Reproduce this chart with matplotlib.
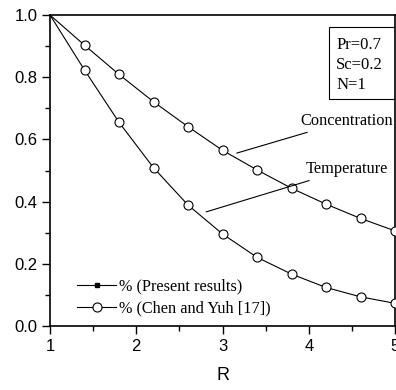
import matplotlib.pyplot as plt
import numpy as np
from matplotlib.patches import Rectangle
from matplotlib.ticker import MultipleLocator

R = [1.0, 1.4, 1.8, 2.2, 2.6, 3.0, 3.4, 3.8, 4.2, 4.6, 5.0]
conc = [1.0, 0.903, 0.809, 0.721, 0.641, 0.565, 0.502, 0.443, 0.392, 0.346, 0.306]
temp = [1.0, 0.823, 0.655, 0.509, 0.389, 0.296, 0.221, 0.167, 0.124, 0.094, 0.073]

serif = 'Liberation Serif'
sans = 'Liberation Sans'

fig = plt.figure(figsize=(3.96, 3.90), dpi=100)
ax = fig.add_axes([0.1263, 0.164, 0.8712, 0.7975])

# present results: plain line, Chen and Yuh: open circles
for yy in (conc, temp):
    ax.plot(R, yy, color='k', lw=0.8, zorder=2)
    ax.plot(R[1:], yy[1:], ls='none', marker='o', ms=6.5, mfc='white',
            mec='k', mew=0.8, zorder=3)

# legend handles
h1, = ax.plot([], [], color='k', lw=0.8, marker='s', ms=2.5)
h2, = ax.plot([], [], color='k', lw=0.8, marker='o', ms=6.5, mfc='white', mew=0.8)
leg = ax.legend([h1, h2], ['% (Present results)', '% (Chen and Yuh [17])'],
                loc='lower left', bbox_to_anchor=(0.06, 0.01), frameon=False,
                prop={'family': serif, 'size': 11.7}, handlelength=2.4,
                handletextpad=0.2, labelspacing=0.35, borderaxespad=0)

ax.set_xlim(1, 5)
ax.set_ylim(0, 1.0)
ax.xaxis.set_major_locator(MultipleLocator(1))
ax.xaxis.set_minor_locator(MultipleLocator(0.5))
ax.yaxis.set_major_locator(MultipleLocator(0.2))
ax.yaxis.set_minor_locator(MultipleLocator(0.1))
ax.yaxis.set_major_formatter(plt.FuncFormatter(lambda v, p: '%.1f' % v))
ax.tick_params(which='major', direction='out', length=6, width=1, labelsize=12, pad=3)
ax.tick_params(which='minor', direction='out', length=3.5, width=1)
for lab in ax.get_xticklabels() + ax.get_yticklabels():
    lab.set_family(sans)
for s in ax.spines.values():
    s.set_linewidth(1.2)
ax.set_xlabel('R', family=sans, fontsize=13, labelpad=10)

# parameter box
ax.add_patch(Rectangle((0.809, 0.73), 0.191, 0.232, transform=ax.transAxes,
                       fill=False, ec='k', lw=0.8, zorder=4))
ax.text(0.83, 0.93, 'Pr=0.7\nSc=0.2\nN=1', transform=ax.transAxes,
        family=serif, fontsize=12, va='top', ha='left', linespacing=1.35)

# curve labels
ax.annotate('Concentration', xy=(3.165, 0.556), xytext=(3.9, 0.66),
            family=serif, fontsize=11.8, va='center', ha='left',
            arrowprops=dict(arrowstyle='-', color='k', lw=0.8, shrinkA=2, shrinkB=0))
ax.annotate('Temperature', xy=(2.81, 0.367), xytext=(3.97, 0.505),
            family=serif, fontsize=11.8, va='center', ha='left',
            arrowprops=dict(arrowstyle='-', color='k', lw=0.8, shrinkA=2, shrinkB=0))

fig.savefig('out.png', dpi=100)
